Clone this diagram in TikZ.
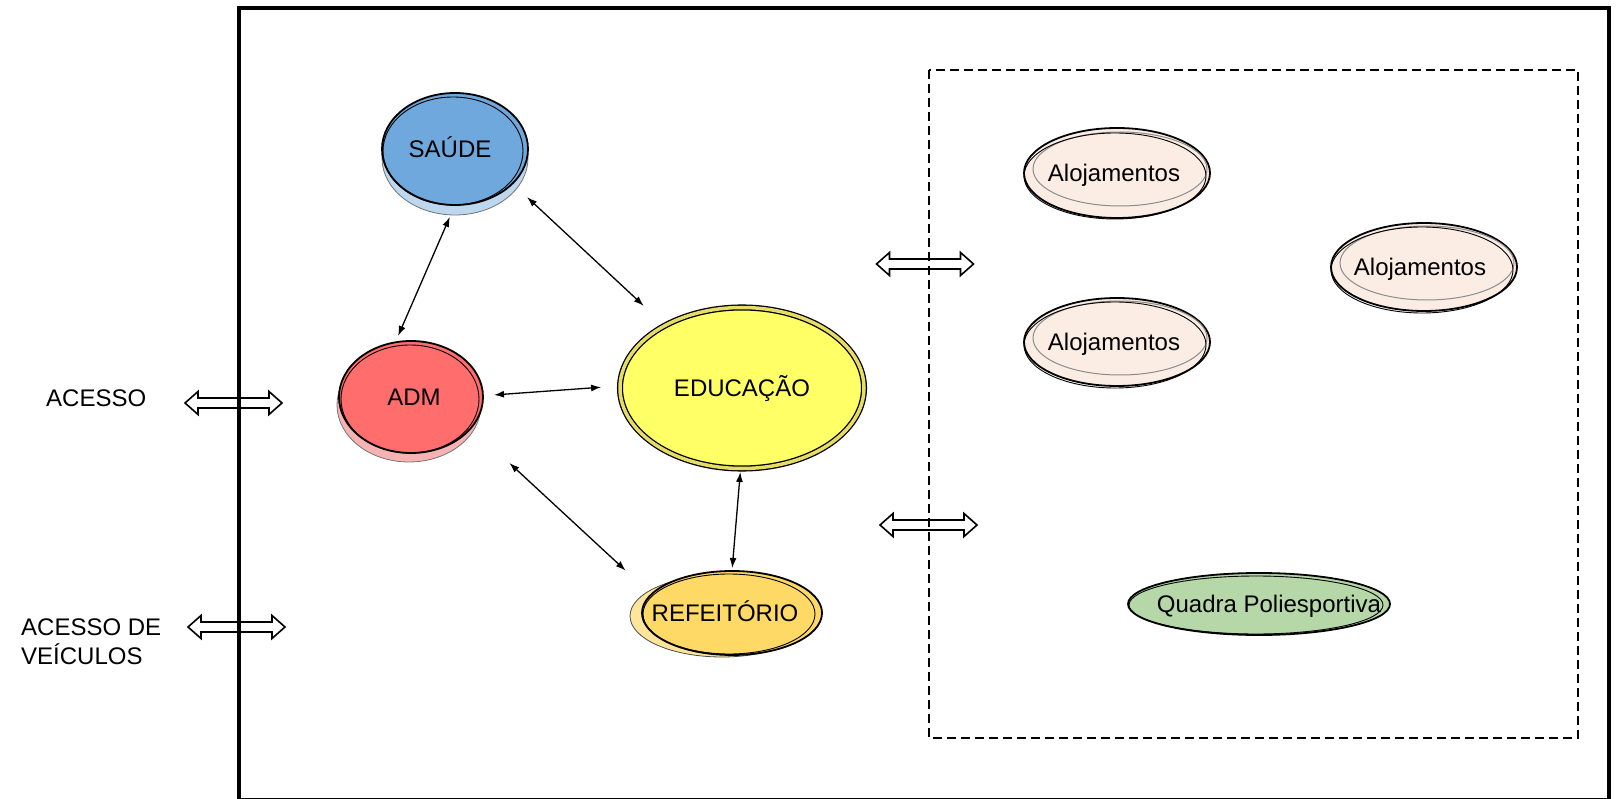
\documentclass[tikz,border=0pt]{standalone}
\usepackage{fontspec}
\setmainfont{Liberation Sans}
\usetikzlibrary{arrows.meta,shapes.geometric,backgrounds,calc}

\definecolor{saude}{HTML}{6FA8DC}
\definecolor{saudeback}{HTML}{BDD7EE}
\definecolor{adm}{HTML}{FF6D6D}
\definecolor{admback}{HTML}{F7B3B3}
\definecolor{educ}{HTML}{FFFF66}
\definecolor{educring}{HTML}{E6DC66}
\definecolor{refe}{HTML}{FFD966}
\definecolor{refeback}{HTML}{FFE599}
\definecolor{alo}{HTML}{FCEDE4}
\definecolor{quadra}{HTML}{B6D7A8}

% centred text of zero width, shifted sideways by the optional amount
\newcommand\ctext[2][0pt]{\makebox[0pt]{\kern#1#2\kern-#1}}

\begin{document}
\begin{tikzpicture}[
  x=1pt, y=-1pt,
  txt/.style={font=\fontsize{24}{29}\selectfont, text height=17.2pt, text depth=0pt, inner sep=0pt},
  bub/.style={ellipse, draw=black, line width=1.8pt, inner sep=0pt, outer sep=0pt, txt},
  conn/.style={line width=1.3pt, {Latex[length=10pt,width=7pt]}-{Latex[length=10pt,width=7pt]}},
  sketch/.style={line width=0.9pt},
  dblarrow/.pic={
    \draw[line width=1.6pt, line join=miter]
      (-48.5,0) -- (-35.5,-11.5) -- (-35.5,-5) -- (35.5,-5) -- (35.5,-11.5)
      -- (48.5,0) -- (35.5,11.5) -- (35.5,5) -- (-35.5,5) -- (-35.5,11.5) -- cycle;
  }
]
\useasboundingbox (0,0) rectangle (1617,799);

% site boundary and the lodging / sports area
\draw[line width=3.3pt] (239,8) rectangle (1609,800);
\draw[line width=2pt, dash pattern=on 9pt off 5pt] (929,70) rectangle (1578,738);

% access labels
\node[txt, anchor=west] (acesso) at (46,398) {ACESSO};
\node[txt, anchor=west] (acv1) at (21,627) {ACESSO DE};
\node[txt, anchor=west] (acv2) at (21,656) {VEÍCULOS};

% access arrows
\pic at (233.5,403) {dblarrow};
\pic at (236.5,627) {dblarrow};
\pic at (925,264) {dblarrow};
\pic at (928.5,525) {dblarrow};

% main blocks
\node[bub, fill=saude, minimum width=146pt, minimum height=112pt] (saude) at (455,149) {\ctext[-5pt]{SAÚDE}};
\node[bub, fill=adm, minimum width=144pt, minimum height=112pt] (adm) at (411,397) {\ctext[3pt]{ADM}};
\node[ellipse, txt, outer sep=0pt, draw=black, line width=1.3pt, double=educring, double distance=3.5pt,
      fill=educ, minimum width=244pt, minimum height=161pt] (educ) at (742,388) {\ctext{EDUCAÇÃO}};
\node[bub, fill=refe, minimum width=180pt, minimum height=84pt] (refe) at (732,613) {\ctext[-7pt]{REFEITÓRIO}};

\node[bub, fill=alo, minimum width=186pt, minimum height=90pt] (alo1) at (1117,173) {\ctext[-3pt]{Alojamentos}};
\node[bub, fill=alo, minimum width=186pt, minimum height=88pt] (alo2) at (1424,267) {\ctext[-4pt]{Alojamentos}};
\node[bub, fill=alo, minimum width=186pt, minimum height=88pt] (alo3) at (1117,342) {\ctext[-3pt]{Alojamentos}};
\node[bub, fill=quadra, minimum width=262pt, minimum height=62pt] (quad) at (1259,604) {\ctext[10pt]{Quadra Poliesportiva}};

% stacked shadows behind the blocks
\begin{pgfonlayer}{background}
  \filldraw[fill=saudeback, draw=black!55, line width=0.8pt] ($(saude)+(0,9)$) ellipse [x radius=73pt, y radius=57pt];
  \filldraw[fill=admback, draw=black!55, line width=0.8pt] ($(adm)+(-2,8)$) ellipse [x radius=72pt, y radius=57pt];
  \filldraw[fill=refeback, draw=black!70, line width=0.8pt] ($(refe)+(-10,3)$) ellipse [x radius=92pt, y radius=41pt];
\end{pgfonlayer}

% doubled outlines
\draw[sketch] ($(saude)+(-2,2)$) ellipse [x radius=70pt, y radius=54pt];
\draw[sketch] ($(adm)+(-1,2)$) ellipse [x radius=69pt, y radius=54pt];
\draw[sketch] ($(refe)+(-3,1)$) ellipse [x radius=86pt, y radius=40pt];
\foreach \a in {alo1,alo2,alo3}{
  \draw[line width=1pt, draw=black!45] ($(\a)+(3,-4)$) ellipse [x radius=87pt, y radius=37pt];
  \draw[sketch] ($(\a)+(-2,3)$) ellipse [x radius=91pt, y radius=43pt];
}
\draw[sketch] ($(quad)+(-3,1)$) ellipse [x radius=127pt, y radius=29pt];

% relations between blocks
\draw[conn, shorten <=13pt, shorten >=7pt] (saude.-90) -- (adm.106);
\draw[conn, shorten <=20pt, shorten >=29pt] (saude.-31) -- (educ.141);
\draw[conn, shorten <=11pt, shorten >=19pt] (adm.1) -- (educ.179);
\draw[conn, shorten <=52pt, shorten >=35pt] (adm.-27) -- (refe.167);
\draw[conn, shorten <=3.5pt, shorten >=3pt] (educ.-91) -- (refe.90);
\end{tikzpicture}
\end{document}
